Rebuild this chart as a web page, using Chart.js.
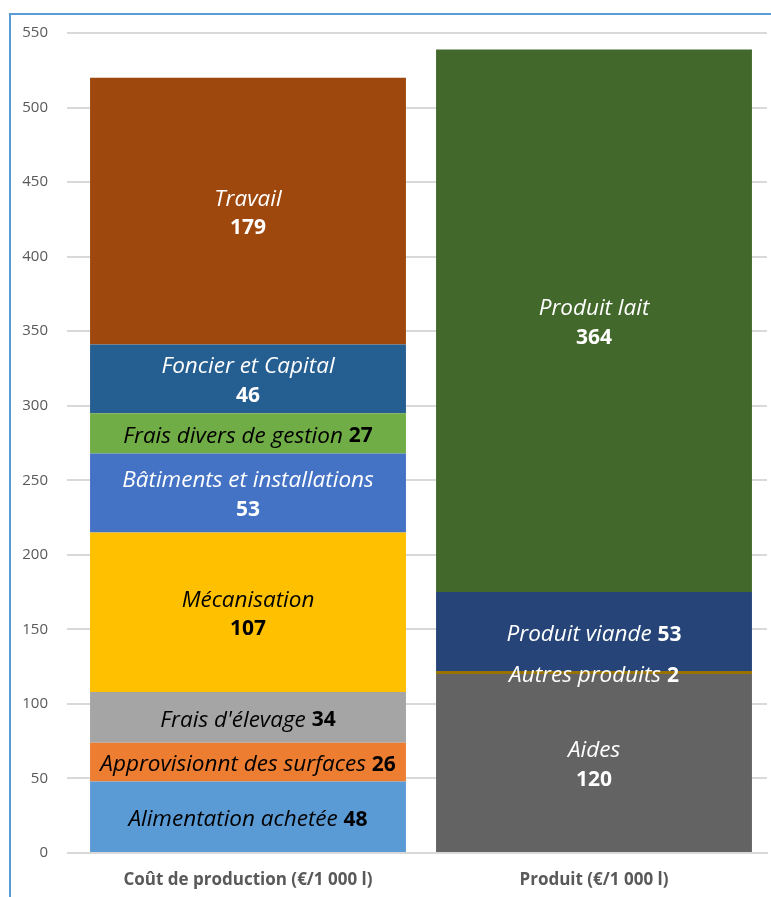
<!DOCTYPE html>
<html>
<head>
<meta charset="utf-8">
<script src="https://cdn.jsdelivr.net/npm/chart.js@4.4.1/dist/chart.umd.min.js"></script>
<style>
  body { margin: 0; background: #fff; }
  #frame { position: absolute; left: 9px; top: 13px; width: 800px; height: 900px;
           border-top: 2px solid #5b9bd5; border-left: 2px solid #5b9bd5; }
  #wrap { position: absolute; left: 0; top: 0; width: 771px; height: 897px; }
</style>
</head>
<body>
<div id="frame"></div>
<div id="wrap"><canvas id="chart"></canvas></div>
<script>
var categories = ['Coût de production (€/1 000 l)', 'Produit (€/1 000 l)'];

var coutNames = ['Alimentation achetée', 'Approvisionnt des surfaces', "Frais d'élevage", 'Mécanisation',
                 'Bâtiments et installations', 'Frais divers de gestion', 'Foncier et Capital', 'Travail'];
var coutValues = [48, 26, 34, 107, 53, 27, 46, 179];

var produitNames = ['Aides', 'Autres produits', 'Produit viande', 'Produit lait'];
var produitValues = [120, 2, 53, 364];

var coutColors = ['#5b9bd5', '#ed7d31', '#a5a5a5', '#ffc000', '#4472c4', '#70ad47', '#255e91', '#9e480e'];
var coutText = ['#000', '#000', '#000', '#000', '#fff', '#000', '#fff', '#fff'];
var coutTwoLines = [false, false, false, true, true, false, true, true];

var produitColors = ['#636363', '#997300', '#264478', '#43682b'];
var produitText = ['#fff', '#fff', '#fff', '#fff'];
var produitTwoLines = [true, false, false, true];

var datasets = [];
for (var i = 0; i < coutNames.length; i++) {
    datasets.push({
        label: coutNames[i],
        data: [coutValues[i], null],
        backgroundColor: coutColors[i],
        textColor: coutText[i],
        twoLines: coutTwoLines[i],
        stack: 's'
    });
}
for (var j = 0; j < produitNames.length; j++) {
    datasets.push({
        label: produitNames[j],
        data: [null, produitValues[j]],
        backgroundColor: produitColors[j],
        textColor: produitText[j],
        twoLines: produitTwoLines[j],
        stack: 's'
    });
}

var FONT = '"Open Sans", sans-serif';

var segLabels = {
    id: 'segLabels',
    afterDatasetsDraw: function(chart) {
        var ctx = chart.ctx;
        ctx.save();
        ctx.textBaseline = 'middle';
        chart.data.datasets.forEach(function(ds, di) {
            var meta = chart.getDatasetMeta(di);
            ds.data.forEach(function(v, idx) {
                if (v === null) return;
                var el = meta.data[idx];
                var cx = el.x;
                var cy = (el.y + el.base) / 2 + 3;
                var itFont = 'italic 22.5px ' + FONT;
                var bFont = 'bold 21px ' + FONT;
                ctx.fillStyle = ds.textColor;
                if (ds.twoLines) {
                    ctx.textAlign = 'center';
                    ctx.font = itFont;
                    ctx.fillText(ds.label, cx, cy - 15);
                    ctx.font = bFont;
                    ctx.fillText(String(v), cx, cy + 14);
                } else {
                    ctx.textAlign = 'left';
                    ctx.font = itFont;
                    var wn = ctx.measureText(ds.label).width;
                    var gap = ctx.measureText(' ').width;
                    ctx.font = bFont;
                    var wv = ctx.measureText(String(v)).width;
                    var x0 = cx - (wn + gap + wv) / 2;
                    ctx.font = itFont;
                    ctx.fillText(ds.label, x0, cy);
                    ctx.font = bFont;
                    ctx.fillText(String(v), x0 + wn + gap, cy);
                }
            });
        });
        ctx.restore();
    }
};

var ctx = document.getElementById('chart').getContext('2d');
var myChart = new Chart(ctx, {
    type: 'bar',
    data: { labels: categories, datasets: datasets },
    plugins: [segLabels],
    options: {
        responsive: true,
        maintainAspectRatio: false,
        animation: false,
        layout: { padding: { top: 33, right: 4, bottom: 0, left: 0 } },
        datasets: { bar: { barPercentage: 0.913, categoryPercentage: 1.0 } },
        plugins: { legend: { display: false }, tooltip: { enabled: false } },
        scales: {
            x: {
                stacked: true,
                grid: { display: false, drawTicks: false },
                border: { color: '#d9d9d9', width: 2 },
                ticks: { padding: 17, color: '#595959', font: { family: FONT, size: 17, weight: 'bold' } },
                afterFit: function(scale) { scale.height = 44; }
            },
            y: {
                stacked: true,
                min: 0,
                max: 550,
                ticks: { stepSize: 50, padding: 19, color: '#595959', font: { family: FONT, size: 15 } },
                grid: { color: '#d9d9d9', lineWidth: 2, tickLength: 8 },
                border: { display: false },
                afterFit: function(scale) { scale.width = 75; }
            }
        }
    }
});
</script>
</body>
</html>
